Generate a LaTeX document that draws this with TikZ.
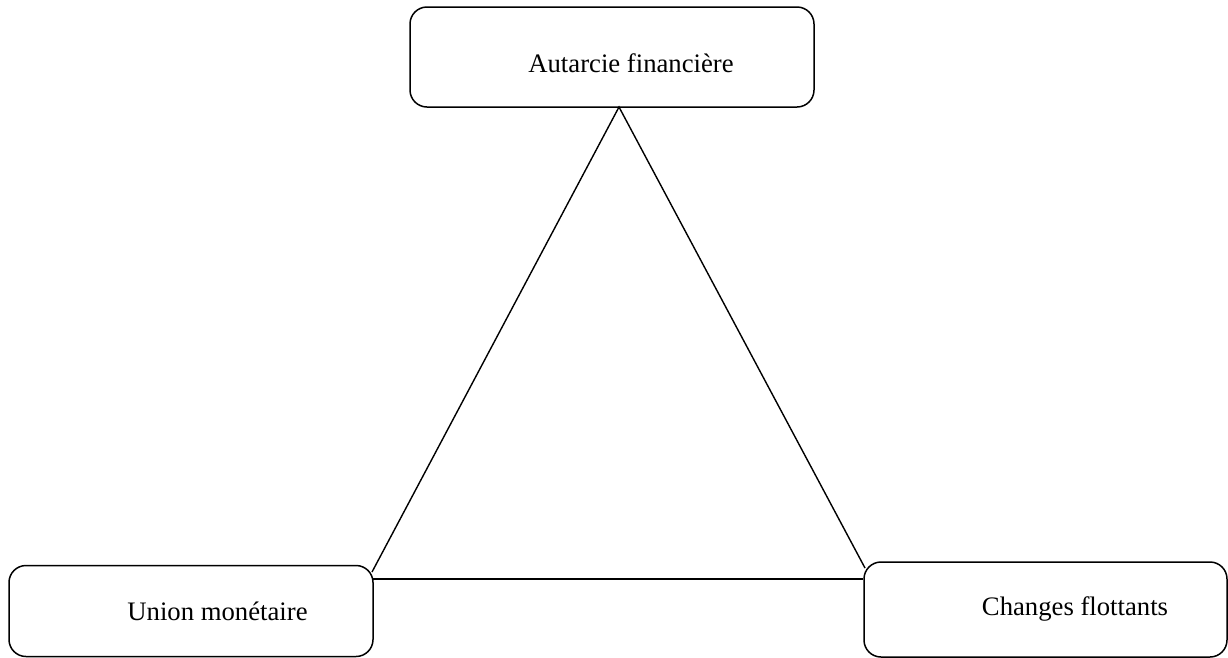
\documentclass[tikz,border=0pt]{standalone}
\usepackage{fontspec}
\setmainfont{Liberation Serif}
\begin{document}
\begin{tikzpicture}[x=1pt,y=-1pt,
  box/.style={draw, line width=1.5pt, rounded corners=17pt, inner sep=0pt},
  lbl/.style={anchor=base, inner sep=0pt, font=\fontsize{26.7}{32}\selectfont},
  edge/.style={line width=1.4pt}]
  \useasboundingbox (0,0) rectangle (1228,657);
  % three regime boxes
  \node[box, minimum width=404pt, minimum height=100pt] (af) at (612,57) {};
  \node[box, minimum width=364pt, minimum height=91pt] (um) at (191,611) {};
  \node[box, minimum width=363pt, minimum height=95pt] (cf) at (1045.5,609.5) {};
  \node[lbl] (afl) at (631,72) {Autarcie financière};
  \node[lbl] (uml) at (217.5,620) {Union monétaire};
  \node[lbl] (cfl) at (1075,615) {Changes flottants};
  % triangle
  \coordinate (apex) at (619,107);
  \coordinate (lft) at (372,572);
  \coordinate (rgt) at (865,568);
  \coordinate (base) at (373,579);
  \draw[edge] (lft) -- (apex) -- (rgt);
  \draw[edge] (base) -- (cf.west |- base);
\end{tikzpicture}
\end{document}
